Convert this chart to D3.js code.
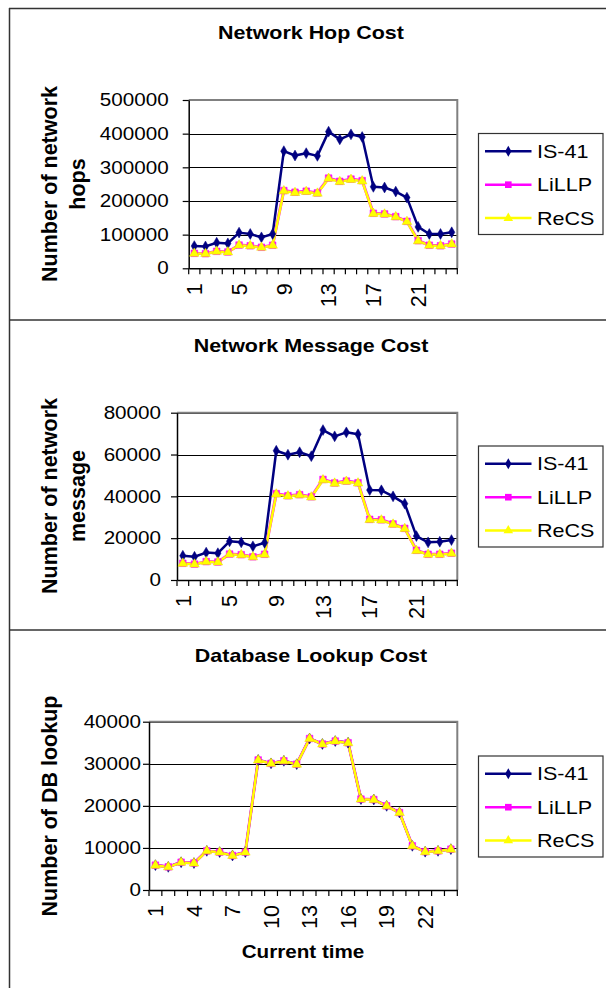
<!DOCTYPE html>
<html>
<head>
<meta charset="utf-8">
<script src="https://cdn.jsdelivr.net/npm/d3@7"></script>
<style>
  body { margin: 0; background: #fff; }
  svg { display: block; font-family: "Liberation Sans", Arial, sans-serif; }
</style>
</head>
<body>
<div id="chart"></div>
<script>
// time slots on the x axis
var timeSlots = [1, 2, 3, 4, 5, 6, 7, 8, 9, 10, 11, 12, 13, 14, 15, 16, 17, 18, 19, 20, 21, 22, 23, 24];

var seriesNames = ["IS-41", "LiLLP", "ReCS"];
var seriesColors = ["#000080", "#ff00ff", "#ffff00"];

// network hop cost
var hopIS41 = [66000, 65000, 76000, 74000, 106000, 102000, 92000, 102000, 348000, 335000, 342000, 334000, 406000, 383000, 398000, 390000, 242000, 240000, 228000, 210000, 123000, 102000, 102000, 107000];
var hopLiLLP = [44500, 43500, 50500, 48500, 69000, 67000, 62500, 68500, 231000, 226000, 229000, 224000, 268000, 258500, 265000, 260500, 163500, 161500, 153500, 139500, 82000, 68500, 67000, 72000];
var hopReCS = [44000, 43000, 50000, 48000, 68500, 66500, 62000, 68000, 229500, 224500, 227500, 222500, 266500, 257000, 263500, 259000, 162500, 160500, 152500, 138500, 81000, 68000, 66500, 71500];
var hopTicks = [0, 100000, 200000, 300000, 400000, 500000];

// network message cost
var msgIS41 = [11600, 11100, 13100, 12800, 18500, 18000, 16100, 17800, 61800, 59900, 61100, 59200, 71700, 68700, 70600, 69700, 43000, 42900, 40000, 36500, 21000, 18000, 18300, 19100];
var msgLiLLP = [8000, 7600, 8800, 8600, 12400, 12100, 11100, 12300, 41300, 40300, 40800, 39800, 48100, 46400, 47300, 46500, 29000, 28800, 26800, 24700, 14200, 12300, 12300, 12800];
var msgReCS = [7900, 7500, 8700, 8500, 12300, 12000, 11000, 12200, 41000, 40100, 40600, 39600, 47800, 46200, 47100, 46300, 28800, 28600, 26600, 24500, 14000, 12200, 12200, 12700];
var msgTicks = [0, 20000, 40000, 60000, 80000];

// database lookup cost
var dbIS41 = [5900, 5500, 6600, 6400, 9300, 9000, 8200, 9000, 30900, 30100, 30700, 29900, 36000, 34700, 35400, 35000, 21600, 21500, 20000, 18400, 10500, 9100, 9300, 9700];
var dbLiLLP = [5900, 5500, 6600, 6400, 9300, 9000, 8200, 9000, 30900, 30100, 30700, 29900, 36000, 34700, 35400, 35000, 21600, 21500, 20000, 18400, 10500, 9100, 9300, 9700];
var dbReCS = [5850, 5450, 6550, 6350, 9250, 8950, 8150, 8950, 30850, 30050, 30650, 29850, 35950, 34650, 35350, 34950, 21550, 21450, 19950, 18350, 10450, 9050, 9250, 9650];
var dbTicks = [0, 10000, 20000, 30000, 40000];

var W = 606, H = 988;
var SX = 1.16; // horizontal text looks stretched in the reference

var panels = [
	{title: "Network Hop Cost", yTitle: ["Number of network", "hops"], series: [hopIS41, hopLiLLP, hopReCS], ticks: hopTicks, labelStep: 4,
	 top: 8, titleY: 33, left: 188.7, right: 457.3, pTop: 100, pBottom: 268.3, yTitleY: 184, tickGap: 20, legendTop: 133.5},
	{title: "Network Message Cost", yTitle: ["Number of network", "message"], series: [msgIS41, msgLiLLP, msgReCS], ticks: msgTicks, labelStep: 4,
	 top: 320, titleY: 346, left: 177, right: 457.3, pTop: 412.7, pBottom: 580, yTitleY: 496, tickGap: 16, legendTop: 446},
	{title: "Database Lookup Cost", yTitle: ["Number of DB lookup"], series: [dbIS41, dbLiLLP, dbReCS], ticks: dbTicks, labelStep: 3,
	 top: 630, titleY: 656, left: 149, right: 457.3, pTop: 721.7, pBottom: 890, yTitleY: 806, tickGap: 8, legendTop: 756, xTitle: "Current time"}
];

var svg = d3.select("#chart").append("svg").attr("width", W).attr("height", H);
svg.append("rect").attr("width", W).attr("height", H).attr("fill", "#fff");

function hText (g, x, y, str, size, bold, anchor) {
	return g.append("text")
		.attr("transform", "translate(" + x + "," + y + ") scale(" + SX + ",1)")
		.attr("dy", "0.35em")
		.attr("text-anchor", anchor || "middle")
		.style("font-size", size + "px")
		.style("font-weight", bold ? "bold" : "normal")
		.attr("fill", "#000")
		.text(str);
}

function symbolFor (i) {
	if (i == 0) return d3.symbol().type(d3.symbolDiamond).size(34)();
	if (i == 1) return d3.symbol().type(d3.symbolSquare).size(44)();
	return d3.symbol().type(d3.symbolTriangle).size(40)();
}

panels.forEach(function (p) {
	var g = svg.append("g");

	var x = d3.scaleBand().domain(timeSlots).range([p.left, p.right]);
	var y = d3.scaleLinear().domain([0, p.ticks[p.ticks.length - 1]]).range([p.pBottom, p.pTop]);

	hText(g, 311, p.titleY, p.title, 18.5, true);

	// y axis title (rotated)
	p.yTitle.forEach(function (line, k) {
		var cx = p.yTitle.length == 1 ? 49.5 : (k == 0 ? 49.5 : 77);
		g.append("text")
			.attr("transform", "translate(" + cx + "," + p.yTitleY + ") rotate(-90)")
			.attr("dy", "0.35em")
			.attr("text-anchor", "middle")
			.style("font-size", "21.5px")
			.style("font-weight", "bold")
			.text(line);
	});

	// gridlines
	g.selectAll("line.grid").data(p.ticks.slice(1)).enter().append("line")
		.attr("class", "grid")
		.attr("x1", p.left).attr("x2", p.right)
		.attr("y1", function (d) { return Math.round(y(d)) + 0.5; })
		.attr("y2", function (d) { return Math.round(y(d)) + 0.5; })
		.attr("stroke", "#000").attr("stroke-width", 1);

	// plot frame top/right
	g.append("path")
		.attr("d", "M" + p.left + "," + p.pTop + "H" + p.right + "V" + p.pBottom)
		.attr("fill", "none").attr("stroke", "#808080").attr("stroke-width", 2);

	// y axis
	var yAxis = g.append("g").attr("transform", "translate(" + p.left + ",0)")
		.call(d3.axisLeft(y).tickValues(p.ticks).tickSize(6).tickSizeOuter(0).tickFormat(d3.format("d")));
	yAxis.select(".domain").attr("stroke", "#000").attr("stroke-width", 1.5);
	yAxis.selectAll(".tick line").attr("stroke", "#000").attr("stroke-width", 1.2);
	yAxis.selectAll(".tick text")
		.attr("x", -p.tickGap / SX)
		.attr("transform", "scale(" + SX + ",1)")
		.style("font-size", "17.8px")
		.attr("fill", "#000")
		.style("font-family", null);
	yAxis.attr("font-family", null).attr("font-size", null);

	// x axis: labels only, ticks between categories drawn below
	var labelled = timeSlots.filter(function (d, i) { return i % p.labelStep == 0; });
	var xAxis = g.append("g").attr("transform", "translate(0," + p.pBottom + ")")
		.call(d3.axisBottom(x).tickValues(labelled).tickSize(0).tickSizeOuter(0));
	xAxis.select(".domain").attr("stroke", "#000").attr("stroke-width", 1.5);
	xAxis.selectAll(".tick text")
		.attr("y", 0).attr("x", -15).attr("dy", "0.36em")
		.attr("transform", "rotate(-90)")
		.style("text-anchor", "end")
		.style("font-size", "21.5px")
		.attr("fill", "#000");
	xAxis.attr("font-family", null).attr("font-size", null);

	g.selectAll("line.xtick").data(timeSlots.concat(["end"])).enter().append("line")
		.attr("class", "xtick")
		.attr("x1", function (d) { return d == "end" ? p.right : x(d); })
		.attr("x2", function (d) { return d == "end" ? p.right : x(d); })
		.attr("y1", p.pBottom).attr("y2", p.pBottom + 6)
		.attr("stroke", "#000").attr("stroke-width", 1.2);

	if (p.xTitle) hText(g, 303, 952, p.xTitle, 17.8, true);

	// series lines + markers
	var line = d3.line()
		.x(function (d, i) { return x(timeSlots[i]) + x.bandwidth() / 2; })
		.y(function (d) { return y(d); });

	p.series.forEach(function (vals, si) {
		g.append("path").datum(vals)
			.attr("d", line)
			.attr("fill", "none")
			.attr("stroke", seriesColors[si])
			.attr("stroke-width", si == 1 ? 3 : 2.5)
			.attr("stroke-linejoin", "round");
	});
	p.series.forEach(function (vals, si) {
		g.selectAll("path.m" + si).data(vals).enter().append("path")
			.attr("class", "m" + si)
			.attr("transform", function (d, i) { return "translate(" + (x(timeSlots[i]) + x.bandwidth() / 2) + "," + y(d) + ")"; })
			.attr("d", symbolFor(si))
			.attr("fill", seriesColors[si])
			.attr("stroke", si == 2 ? "#e8e000" : seriesColors[si])
			.attr("stroke-width", 0.5);
	});

	// legend
	var lg = g.append("g");
	lg.append("rect")
		.attr("x", 478.5).attr("y", p.legendTop)
		.attr("width", 124.5).attr("height", 101)
		.attr("fill", "#fff").attr("stroke", "#333").attr("stroke-width", 1.2);
	seriesNames.forEach(function (name, si) {
		var ly = p.legendTop + 17.8 + si * 33.4;
		lg.append("line").attr("x1", 485).attr("x2", 531.5).attr("y1", ly).attr("y2", ly)
			.attr("stroke", seriesColors[si]).attr("stroke-width", 2.5);
		lg.append("path").attr("transform", "translate(508.3," + ly + ")")
			.attr("d", symbolFor(si)).attr("fill", seriesColors[si]);
		hText(lg, 537, ly, name, 18.6, false, "start");
	});
});

// outer frame and dividers
var frame = svg.append("g").attr("stroke", "#333").attr("stroke-width", 1.5);
frame.append("line").attr("x1", 9.5).attr("x2", 9.5).attr("y1", 8).attr("y2", H);
frame.append("line").attr("x1", 9).attr("x2", W).attr("y1", 8.5).attr("y2", 8.5);
frame.append("line").attr("x1", 9).attr("x2", W).attr("y1", 320).attr("y2", 320);
frame.append("line").attr("x1", 9).attr("x2", W).attr("y1", 630).attr("y2", 630);
</script>
</body>
</html>
